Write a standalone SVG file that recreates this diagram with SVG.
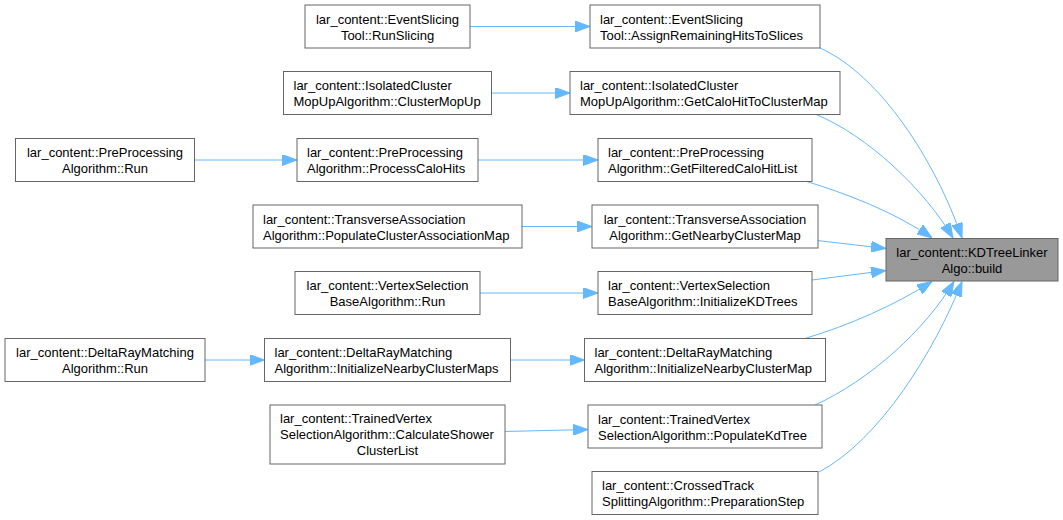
<svg xmlns="http://www.w3.org/2000/svg" width="1063" height="520" viewBox="0 0 1063 520">
<style>
  .box { fill: #ffffff; stroke: #666666; stroke-width: 1; }
  .main { fill: #999999; stroke: #666666; stroke-width: 1; }
  text { font-family: "Liberation Sans", Arial, sans-serif; font-size: 13px; fill: #000000; }
  .c { text-anchor: middle; }
  .l { text-anchor: start; }
  .edge { fill: none; stroke: #63b8ff; stroke-width: 1; marker-end: url(#arrow); }
</style>
<defs>
  <marker id="arrow" viewBox="0 0 15 11" refX="15" refY="5.5" markerWidth="15" markerHeight="11" markerUnits="userSpaceOnUse" orient="auto">
    <path d="M0,0 L15,5.5 L0,11 z" fill="#63b8ff" stroke="#63b8ff" stroke-width="1"/>
  </marker>
</defs>
<rect width="1063" height="520" fill="#ffffff"/>

<g id="connectors">
  <path class="edge" d="M470,26.5 L590,26.5"/>
  <path class="edge" d="M491.5,93 L570,93"/>
  <path class="edge" d="M194.5,160 L297,160"/>
  <path class="edge" d="M478,160 L598,160"/>
  <path class="edge" d="M522,226.5 L592,226.5"/>
  <path class="edge" d="M480,293 L598,293"/>
  <path class="edge" d="M205,360 L264.5,360"/>
  <path class="edge" d="M510.5,360 L584.5,360"/>
  <path class="edge" d="M505,431.5 L588,429.5"/>
  <path class="edge" d="M820,48 C880,75 935,160 962,238"/>
  <path class="edge" d="M815,114 C867,135 925,190 953,238"/>
  <path class="edge" d="M805,181 C845,193 895,212 932,238"/>
  <path class="edge" d="M817,240.5 L886,248.5"/>
  <path class="edge" d="M812,280 L886,270.5"/>
  <path class="edge" d="M805,338.5 C850,325 895,305 932,281.5"/>
  <path class="edge" d="M815,405 C870,380 925,330 954,281.5"/>
  <path class="edge" d="M819,472 C880,440 935,350 962,281.5"/>
</g>

<g id="n_kdtree">
  <rect class="main" x="886" y="238.5" width="172" height="42.5"/>
  <text class="c" x="972" y="256.5">lar_content::KDTreeLinker</text>
  <text class="c" x="972" y="272.5">Algo::build</text>
</g>

<g id="n_assign">
  <rect class="box" x="590" y="5" width="230" height="43"/>
  <text class="l" x="600" y="23.5">lar_content::EventSlicing</text>
  <text class="l" x="600" y="39.5">Tool::AssignRemainingHitsToSlices</text>
</g>
<g id="n_getcalohit">
  <rect class="box" x="570" y="71.5" width="270" height="43"/>
  <text class="l" x="580" y="90">lar_content::IsolatedCluster</text>
  <text class="l" x="580" y="106">MopUpAlgorithm::GetCaloHitToClusterMap</text>
</g>
<g id="n_getfiltered">
  <rect class="box" x="598" y="138.5" width="214" height="43"/>
  <text class="l" x="608" y="157">lar_content::PreProcessing</text>
  <text class="l" x="608" y="173">Algorithm::GetFilteredCaloHitList</text>
</g>
<g id="n_getnearby">
  <rect class="box" x="592" y="205" width="226" height="43"/>
  <text class="c" x="705" y="223.5">lar_content::TransverseAssociation</text>
  <text class="c" x="705" y="239.5">Algorithm::GetNearbyClusterMap</text>
</g>
<g id="n_initkd">
  <rect class="box" x="598" y="271.5" width="214" height="43"/>
  <text class="l" x="608" y="290">lar_content::VertexSelection</text>
  <text class="l" x="608" y="306">BaseAlgorithm::InitializeKDTrees</text>
</g>
<g id="n_initnearbymap">
  <rect class="box" x="584.5" y="338.5" width="241" height="43"/>
  <text class="l" x="594.5" y="357">lar_content::DeltaRayMatching</text>
  <text class="l" x="594.5" y="373">Algorithm::InitializeNearbyClusterMap</text>
</g>
<g id="n_populatekd">
  <rect class="box" x="588" y="405" width="234" height="43"/>
  <text class="l" x="598" y="423.5">lar_content::TrainedVertex</text>
  <text class="l" x="598" y="439.5">SelectionAlgorithm::PopulateKdTree</text>
</g>
<g id="n_crossed">
  <rect class="box" x="592" y="471.5" width="226" height="43"/>
  <text class="l" x="602" y="490">lar_content::CrossedTrack</text>
  <text class="l" x="602" y="506">SplittingAlgorithm::PreparationStep</text>
</g>

<g id="n_runslicing">
  <rect class="box" x="305" y="5" width="165" height="43"/>
  <text class="c" x="387.5" y="23.5">lar_content::EventSlicing</text>
  <text class="c" x="387.5" y="39.5">Tool::RunSlicing</text>
</g>
<g id="n_clustermopup">
  <rect class="box" x="283.5" y="71.5" width="208" height="43"/>
  <text class="l" x="293.5" y="90">lar_content::IsolatedCluster</text>
  <text class="l" x="293.5" y="106">MopUpAlgorithm::ClusterMopUp</text>
</g>
<g id="n_processcalo">
  <rect class="box" x="297" y="138.5" width="181" height="43"/>
  <text class="l" x="307" y="157">lar_content::PreProcessing</text>
  <text class="l" x="307" y="173">Algorithm::ProcessCaloHits</text>
</g>
<g id="n_populateassoc">
  <rect class="box" x="253" y="205" width="269" height="43"/>
  <text class="l" x="263" y="223.5">lar_content::TransverseAssociation</text>
  <text class="l" x="263" y="239.5">Algorithm::PopulateClusterAssociationMap</text>
</g>
<g id="n_vsrun">
  <rect class="box" x="295" y="271.5" width="185" height="43"/>
  <text class="c" x="387.5" y="290">lar_content::VertexSelection</text>
  <text class="c" x="387.5" y="306">BaseAlgorithm::Run</text>
</g>
<g id="n_initnearbymaps">
  <rect class="box" x="264.5" y="338.5" width="246" height="43"/>
  <text class="l" x="274.5" y="357">lar_content::DeltaRayMatching</text>
  <text class="l" x="274.5" y="373">Algorithm::InitializeNearbyClusterMaps</text>
</g>
<g id="n_calcshower">
  <rect class="box" x="270" y="405" width="235" height="59"/>
  <text class="l" x="280" y="422.5">lar_content::TrainedVertex</text>
  <text class="l" x="280" y="438.5">SelectionAlgorithm::CalculateShower</text>
  <text class="c" x="387.5" y="454.5">ClusterList</text>
</g>

<g id="n_pprun">
  <rect class="box" x="15.5" y="138.5" width="179" height="43"/>
  <text class="c" x="105" y="157">lar_content::PreProcessing</text>
  <text class="c" x="105" y="173">Algorithm::Run</text>
</g>
<g id="n_drrun">
  <rect class="box" x="5" y="338.5" width="200" height="43"/>
  <text class="c" x="105" y="357">lar_content::DeltaRayMatching</text>
  <text class="c" x="105" y="373">Algorithm::Run</text>
</g>
</svg>
